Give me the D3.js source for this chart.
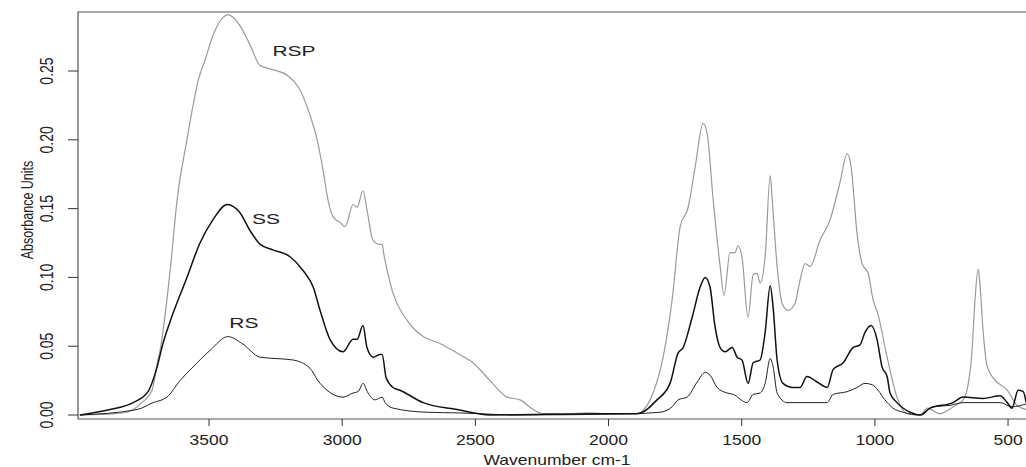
<!DOCTYPE html>
<html>
<head>
<meta charset="utf-8">
<script src="https://cdn.jsdelivr.net/npm/d3@7"></script>
<style>
  html, body { margin: 0; padding: 0; background: #fff; }
  svg { display: block; }
  text { font-family: "Liberation Sans", Arial, sans-serif; fill: #222; }
</style>
</head>
<body>
<svg id="chart" width="1026" height="467"></svg>
<script>
// ---- data (wavenumber cm-1, absorbance units) ----
const xTicks = [3500, 3000, 2500, 2000, 1500, 1000, 500];
const yTicks = [0.00, 0.05, 0.10, 0.15, 0.20, 0.25];
const yTickLabels = ["0.00", "0.05", "0.10", "0.15", "0.20", "0.25"];
const seriesNames = ["RSP", "SS", "RS"];

const rspWn = [3992,3853,3808,3752,3714,3692,3684,3658,3646,3620,3583,3560,3541,3515,3485,3447,3429,3384,3346,3308,3260,3207,3158,3121,3094,3072,3053,3034,3008,2989,2959,2944,2922,2907,2884,2858,2850,2843,2813,2757,2696,2633,2569,2509,2445,2381,2332,2283,2246,2144,2081,1994,1893,1844,1795,1761,1731,1701,1675,1645,1630,1607,1581,1566,1544,1525,1514,1499,1476,1457,1442,1431,1412,1393,1386,1367,1348,1326,1300,1281,1262,1243,1206,1168,1131,1104,1089,1067,1048,1025,1007,988,954,917,879,830,803,755,706,669,654,635,624,612,605,594,579,556,503,466,432];
const rspAbs = [0.000,0.001,0.002,0.009,0.018,0.040,0.047,0.084,0.105,0.156,0.200,0.225,0.243,0.258,0.276,0.289,0.291,0.283,0.269,0.254,0.251,0.247,0.236,0.218,0.200,0.178,0.156,0.144,0.140,0.137,0.153,0.151,0.163,0.149,0.127,0.124,0.124,0.116,0.091,0.069,0.057,0.052,0.045,0.038,0.025,0.013,0.011,0.004,0.001,0.001,0.0015,0.001,0.001,0.011,0.042,0.084,0.137,0.151,0.180,0.212,0.205,0.156,0.108,0.087,0.118,0.118,0.123,0.115,0.071,0.102,0.103,0.096,0.115,0.174,0.158,0.108,0.081,0.076,0.081,0.098,0.110,0.108,0.127,0.142,0.169,0.190,0.180,0.132,0.110,0.103,0.084,0.073,0.042,0.013,0.001,0.000,0.005,0.001,0.006,0.011,0.018,0.047,0.084,0.106,0.094,0.062,0.036,0.027,0.018,0.007,0.004];

const ssWn = [3984,3872,3785,3729,3695,3673,3646,3583,3534,3485,3432,3384,3346,3308,3260,3196,3147,3109,3083,3046,2997,2959,2944,2922,2907,2884,2858,2850,2835,2809,2783,2696,2569,2445,2032,1893,1818,1769,1739,1720,1686,1656,1637,1619,1600,1581,1562,1536,1517,1499,1476,1457,1431,1412,1393,1382,1367,1345,1307,1281,1255,1217,1179,1157,1119,1082,1056,1037,1014,992,973,954,943,917,868,830,793,706,669,594,530,503,485,462,443,432];
const ssAbs = [0.000,0.004,0.009,0.017,0.035,0.052,0.068,0.100,0.125,0.142,0.153,0.147,0.134,0.124,0.120,0.115,0.105,0.093,0.076,0.055,0.046,0.055,0.055,0.065,0.049,0.042,0.044,0.044,0.027,0.020,0.018,0.009,0.004,0.000,0.001,0.001,0.011,0.023,0.045,0.049,0.071,0.093,0.100,0.093,0.064,0.049,0.046,0.049,0.042,0.040,0.023,0.038,0.040,0.060,0.094,0.078,0.040,0.023,0.020,0.020,0.028,0.024,0.020,0.033,0.038,0.049,0.051,0.060,0.065,0.055,0.035,0.028,0.016,0.009,0.002,0.000,0.005,0.009,0.013,0.012,0.014,0.009,0.005,0.018,0.017,0.009];

const rsWn = [3984,3770,3710,3658,3609,3560,3496,3429,3376,3308,3245,3185,3121,3091,3057,2997,2959,2940,2922,2903,2877,2850,2839,2809,2681,2557,2332,1908,1807,1761,1739,1705,1667,1637,1619,1592,1555,1532,1480,1457,1431,1412,1393,1382,1367,1330,1281,1255,1217,1179,1157,1104,1067,1037,1010,988,962,932,894,830,781,718,669,594,530,485,432];
const rsAbs = [0.000,0.004,0.009,0.013,0.025,0.035,0.047,0.057,0.052,0.042,0.041,0.040,0.034,0.025,0.018,0.013,0.016,0.017,0.023,0.016,0.011,0.013,0.009,0.005,0.002,0.0015,0.000,0.001,0.002,0.006,0.011,0.013,0.024,0.031,0.029,0.020,0.016,0.015,0.009,0.015,0.016,0.023,0.041,0.035,0.016,0.009,0.009,0.009,0.009,0.009,0.015,0.017,0.020,0.023,0.022,0.018,0.011,0.005,0.002,0.000,0.006,0.007,0.009,0.009,0.009,0.006,0.008];

// label anchor positions (data space)
const labelWn = [3181, 3286, 3369];
const labelAbs = [0.261, 0.1388, 0.0632];

// ---- layout ----
(function () {
const svg = d3.select("#chart");
const mL = 78, mR = 1036, mT = 12, mB = 419;
const SX = 1.25; // horizontal stretch of the original image text

const x = d3.scaleLinear().domain([3992, 395]).range([mL, mR]);
const y = d3.scaleLinear().domain([-0.0029, 0.2929]).range([mB, mT]);

// frame
svg.append("path")
  .attr("d", `M${mR},${mT}H${mL}V${mB}H${mR}`)
  .attr("fill", "none").attr("stroke", "#555").attr("stroke-width", 1.2);

// x ticks
const gx = svg.append("g");
gx.selectAll("line").data(xTicks).join("line")
  .attr("x1", d => x(d)).attr("x2", d => x(d))
  .attr("y1", mB).attr("y2", mB + 7)
  .attr("stroke", "#333").attr("stroke-width", 1);
gx.selectAll("text").data(xTicks).join("text")
  .attr("transform", d => `translate(${x(d)},445) scale(${SX},1)`)
  .attr("text-anchor", "middle").attr("font-size", 14)
  .text(d => d);

// y ticks
const gy = svg.append("g");
gy.selectAll("line").data(yTicks).join("line")
  .attr("x1", mL - 10).attr("x2", mL)
  .attr("y1", d => y(d)).attr("y2", d => y(d))
  .attr("stroke", "#333").attr("stroke-width", 1);
gy.selectAll("text").data(yTicks).join("text")
  .attr("transform", d => `translate(53,${y(d)}) scale(${SX},1) rotate(-90)`)
  .attr("text-anchor", "middle").attr("font-size", 14)
  .text((d, i) => yTickLabels[i]);

// axis titles
svg.append("text")
  .attr("transform", `translate(${(mL + mR) / 2},465) scale(${SX},1)`)
  .attr("text-anchor", "middle").attr("font-size", 14)
  .text("Wavenumber cm-1");
svg.append("text")
  .attr("transform", `translate(33,210) scale(${SX},1) rotate(-90)`)
  .attr("text-anchor", "middle").attr("font-size", 12.5)
  .text("Absorbance Units");

// spectra
const line = d3.line().x(d => x(d[0])).y(d => y(d[1])).curve(d3.curveMonotoneX);
const series = [
  {wn: rspWn, ab: rspAbs, color: "#9a9a9a", w: 1.2},
  {wn: rsWn, ab: rsAbs, color: "#222", w: 1.0},
  {wn: ssWn, ab: ssAbs, color: "#111", w: 1.5}
];
svg.append("clipPath").attr("id", "clip")
  .append("rect").attr("x", mL).attr("y", mT).attr("width", mR - mL).attr("height", mB - mT);
const gl = svg.append("g").attr("clip-path", "url(#clip)");
series.forEach(s => {
  gl.append("path")
    .datum(s.wn.map((w, i) => [w, s.ab[i]]))
    .attr("d", line)
    .attr("fill", "none")
    .attr("stroke", s.color)
    .attr("stroke-width", s.w)
    .attr("stroke-linejoin", "round");
});

// series labels
svg.selectAll("text.lab").data(seriesNames).join("text")
  .attr("class", "lab")
  .attr("transform", (d, i) => `translate(${x(labelWn[i])},${y(labelAbs[i])}) scale(1.5,1)`)
  .attr("text-anchor", "middle").attr("font-size", 14)
  .text(d => d);
})();
</script>
</body>
</html>
